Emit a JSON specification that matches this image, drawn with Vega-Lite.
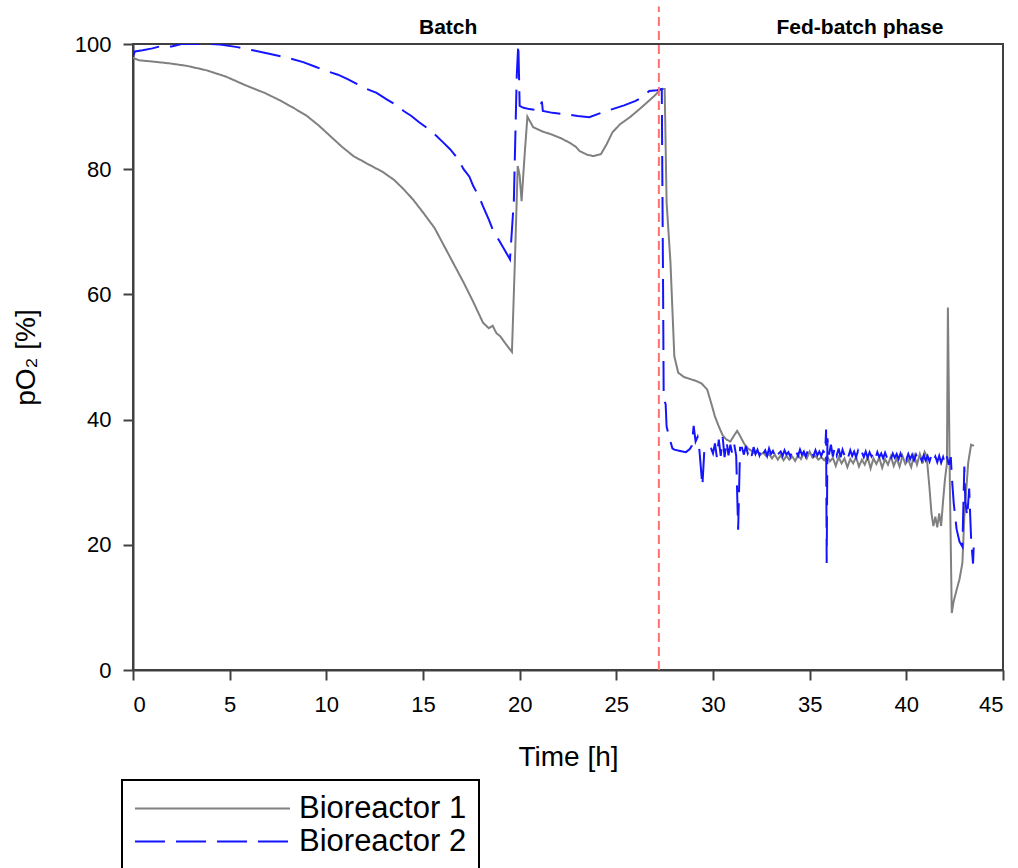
{
  "$schema": "https://vega.github.io/schema/vega-lite/v6.json",
  "width": 870,
  "height": 626,
  "autosize": {"type": "none"},
  "padding": {"left": 133, "top": 44, "right": 15, "bottom": 198},
  "background": "white",
  "config": {
    "font": "Liberation Sans",
    "view": {"stroke": "#404040", "strokeWidth": 2},
    "axis": {"grid": false, "domainColor": "#404040", "domainWidth": 2, "tickColor": "#404040", "tickWidth": 2, "tickSize": 10, "labelFont": "Liberation Sans", "labelFontSize": 22, "labelColor": "black", "titleFont": "Liberation Sans", "titleFontSize": 28, "titleFontWeight": "normal", "titleColor": "black"}
  },
  "datasets": {
    "series": [
      {"t": 0.0, "v": 97.8, "s": "Bioreactor 1"}, {"t": 0.3, "v": 97.4, "s": "Bioreactor 1"}, {"t": 1.0, "v": 97.2, "s": "Bioreactor 1"}, {"t": 1.9, "v": 96.9, "s": "Bioreactor 1"}, {"t": 2.8, "v": 96.5, "s": "Bioreactor 1"}, {"t": 3.8, "v": 95.8, "s": "Bioreactor 1"}, {"t": 4.8, "v": 94.8, "s": "Bioreactor 1"}, {"t": 5.9, "v": 93.3, "s": "Bioreactor 1"}, {"t": 6.8, "v": 92.2, "s": "Bioreactor 1"}, {"t": 7.6, "v": 91.0, "s": "Bioreactor 1"}, {"t": 8.3, "v": 89.8, "s": "Bioreactor 1"}, {"t": 9.0, "v": 88.5, "s": "Bioreactor 1"}, {"t": 9.6, "v": 87.0, "s": "Bioreactor 1"}, {"t": 10.2, "v": 85.3, "s": "Bioreactor 1"}, {"t": 10.8, "v": 83.6, "s": "Bioreactor 1"}, {"t": 11.4, "v": 82.1, "s": "Bioreactor 1"}, {"t": 12.1, "v": 80.9, "s": "Bioreactor 1"}, {"t": 12.9, "v": 79.6, "s": "Bioreactor 1"}, {"t": 13.5, "v": 78.3, "s": "Bioreactor 1"}, {"t": 14.0, "v": 76.8, "s": "Bioreactor 1"}, {"t": 14.5, "v": 75.1, "s": "Bioreactor 1"}, {"t": 15.0, "v": 73.1, "s": "Bioreactor 1"}, {"t": 15.6, "v": 70.6, "s": "Bioreactor 1"}, {"t": 16.1, "v": 67.7, "s": "Bioreactor 1"}, {"t": 16.6, "v": 64.8, "s": "Bioreactor 1"}, {"t": 17.1, "v": 61.9, "s": "Bioreactor 1"}, {"t": 17.6, "v": 58.8, "s": "Bioreactor 1"}, {"t": 18.1, "v": 55.5, "s": "Bioreactor 1"}, {"t": 18.4, "v": 54.6, "s": "Bioreactor 1"}, {"t": 18.6, "v": 55.0, "s": "Bioreactor 1"}, {"t": 18.8, "v": 53.8, "s": "Bioreactor 1"}, {"t": 19.0, "v": 53.3, "s": "Bioreactor 1"}, {"t": 19.3, "v": 52.0, "s": "Bioreactor 1"}, {"t": 19.6, "v": 50.8, "s": "Bioreactor 1"}, {"t": 19.75, "v": 65.0, "s": "Bioreactor 1"}, {"t": 19.9, "v": 80.5, "s": "Bioreactor 1"}, {"t": 20.0, "v": 79.0, "s": "Bioreactor 1"}, {"t": 20.1, "v": 74.9, "s": "Bioreactor 1"}, {"t": 20.25, "v": 82.0, "s": "Bioreactor 1"}, {"t": 20.4, "v": 88.4, "s": "Bioreactor 1"}, {"t": 20.7, "v": 86.7, "s": "Bioreactor 1"}, {"t": 21.2, "v": 86.0, "s": "Bioreactor 1"}, {"t": 21.6, "v": 85.6, "s": "Bioreactor 1"}, {"t": 22.1, "v": 85.0, "s": "Bioreactor 1"}, {"t": 22.6, "v": 84.2, "s": "Bioreactor 1"}, {"t": 22.9, "v": 83.6, "s": "Bioreactor 1"}, {"t": 23.1, "v": 82.9, "s": "Bioreactor 1"}, {"t": 23.5, "v": 82.3, "s": "Bioreactor 1"}, {"t": 23.8, "v": 82.1, "s": "Bioreactor 1"}, {"t": 24.2, "v": 82.4, "s": "Bioreactor 1"}, {"t": 24.5, "v": 84.0, "s": "Bioreactor 1"}, {"t": 24.8, "v": 85.9, "s": "Bioreactor 1"}, {"t": 25.2, "v": 87.2, "s": "Bioreactor 1"}, {"t": 25.7, "v": 88.3, "s": "Bioreactor 1"}, {"t": 26.2, "v": 89.6, "s": "Bioreactor 1"}, {"t": 26.6, "v": 90.7, "s": "Bioreactor 1"}, {"t": 27.0, "v": 91.8, "s": "Bioreactor 1"}, {"t": 27.3, "v": 92.8, "s": "Bioreactor 1"}, {"t": 27.5, "v": 92.8, "s": "Bioreactor 1"}, {"t": 27.6, "v": 74.7, "s": "Bioreactor 1"}, {"t": 27.8, "v": 65.1, "s": "Bioreactor 1"}, {"t": 28.0, "v": 50.1, "s": "Bioreactor 1"}, {"t": 28.2, "v": 47.5, "s": "Bioreactor 1"}, {"t": 28.5, "v": 46.8, "s": "Bioreactor 1"}, {"t": 28.8, "v": 46.5, "s": "Bioreactor 1"}, {"t": 29.1, "v": 46.2, "s": "Bioreactor 1"}, {"t": 29.4, "v": 45.8, "s": "Bioreactor 1"}, {"t": 29.7, "v": 44.8, "s": "Bioreactor 1"}, {"t": 29.9, "v": 42.7, "s": "Bioreactor 1"}, {"t": 30.1, "v": 40.5, "s": "Bioreactor 1"}, {"t": 30.3, "v": 38.9, "s": "Bioreactor 1"}, {"t": 30.5, "v": 37.5, "s": "Bioreactor 1"}, {"t": 30.7, "v": 36.8, "s": "Bioreactor 1"}, {"t": 30.9, "v": 36.5, "s": "Bioreactor 1"}, {"t": 31.1, "v": 37.5, "s": "Bioreactor 1"}, {"t": 31.25, "v": 38.2, "s": "Bioreactor 1"}, {"t": 31.4, "v": 37.4, "s": "Bioreactor 1"}, {"t": 31.6, "v": 36.2, "s": "Bioreactor 1"}, {"t": 31.8, "v": 35.4, "s": "Bioreactor 1"},
      {"t": 32.0, "v": 35.0, "s": "Bioreactor 1"}, {"t": 32.15, "v": 34.6, "s": "Bioreactor 1"}, {"t": 32.3, "v": 34.9, "s": "Bioreactor 1"}, {"t": 32.45, "v": 34.4, "s": "Bioreactor 1"}, {"t": 32.6, "v": 34.7, "s": "Bioreactor 1"}, {"t": 32.75, "v": 34.2, "s": "Bioreactor 1"}, {"t": 32.9, "v": 34.5, "s": "Bioreactor 1"}, {"t": 33.05, "v": 33.8, "s": "Bioreactor 1"}, {"t": 33.2, "v": 34.4, "s": "Bioreactor 1"}, {"t": 33.35, "v": 33.6, "s": "Bioreactor 1"}, {"t": 33.5, "v": 34.3, "s": "Bioreactor 1"}, {"t": 33.65, "v": 33.5, "s": "Bioreactor 1"}, {"t": 33.8, "v": 34.2, "s": "Bioreactor 1"}, {"t": 33.95, "v": 33.6, "s": "Bioreactor 1"}, {"t": 34.1, "v": 34.1, "s": "Bioreactor 1"}, {"t": 34.25, "v": 33.4, "s": "Bioreactor 1"}, {"t": 34.4, "v": 34.3, "s": "Bioreactor 1"}, {"t": 34.55, "v": 33.7, "s": "Bioreactor 1"}, {"t": 34.7, "v": 34.6, "s": "Bioreactor 1"}, {"t": 34.85, "v": 33.8, "s": "Bioreactor 1"}, {"t": 35.0, "v": 34.9, "s": "Bioreactor 1"}, {"t": 35.15, "v": 33.9, "s": "Bioreactor 1"}, {"t": 35.3, "v": 34.2, "s": "Bioreactor 1"}, {"t": 35.45, "v": 33.6, "s": "Bioreactor 1"}, {"t": 35.6, "v": 34.0, "s": "Bioreactor 1"}, {"t": 35.75, "v": 33.5, "s": "Bioreactor 1"}, {"t": 35.9, "v": 34.1, "s": "Bioreactor 1"}, {"t": 36.05, "v": 33.3, "s": "Bioreactor 1"}, {"t": 36.2, "v": 33.9, "s": "Bioreactor 1"}, {"t": 36.35, "v": 32.6, "s": "Bioreactor 1"}, {"t": 36.5, "v": 34.0, "s": "Bioreactor 1"}, {"t": 36.65, "v": 33.0, "s": "Bioreactor 1"}, {"t": 36.8, "v": 33.8, "s": "Bioreactor 1"}, {"t": 36.95, "v": 32.4, "s": "Bioreactor 1"}, {"t": 37.1, "v": 33.7, "s": "Bioreactor 1"}, {"t": 37.25, "v": 33.0, "s": "Bioreactor 1"}, {"t": 37.4, "v": 34.0, "s": "Bioreactor 1"}, {"t": 37.55, "v": 32.5, "s": "Bioreactor 1"}, {"t": 37.7, "v": 33.6, "s": "Bioreactor 1"}, {"t": 37.85, "v": 32.8, "s": "Bioreactor 1"}, {"t": 38.0, "v": 34.0, "s": "Bioreactor 1"}, {"t": 38.15, "v": 32.2, "s": "Bioreactor 1"}, {"t": 38.3, "v": 33.8, "s": "Bioreactor 1"}, {"t": 38.45, "v": 32.9, "s": "Bioreactor 1"}, {"t": 38.6, "v": 33.9, "s": "Bioreactor 1"}, {"t": 38.75, "v": 32.3, "s": "Bioreactor 1"}, {"t": 38.9, "v": 33.7, "s": "Bioreactor 1"}, {"t": 39.05, "v": 32.8, "s": "Bioreactor 1"}, {"t": 39.2, "v": 34.1, "s": "Bioreactor 1"}, {"t": 39.35, "v": 32.6, "s": "Bioreactor 1"}, {"t": 39.5, "v": 33.8, "s": "Bioreactor 1"}, {"t": 39.65, "v": 32.5, "s": "Bioreactor 1"}, {"t": 39.8, "v": 34.2, "s": "Bioreactor 1"}, {"t": 39.95, "v": 32.9, "s": "Bioreactor 1"}, {"t": 40.1, "v": 33.6, "s": "Bioreactor 1"}, {"t": 40.25, "v": 32.4, "s": "Bioreactor 1"}, {"t": 40.4, "v": 34.3, "s": "Bioreactor 1"}, {"t": 40.55, "v": 32.8, "s": "Bioreactor 1"}, {"t": 40.7, "v": 34.5, "s": "Bioreactor 1"}, {"t": 40.85, "v": 33.0, "s": "Bioreactor 1"}, {"t": 40.95, "v": 34.8, "s": "Bioreactor 1"}, {"t": 41.05, "v": 34.2, "s": "Bioreactor 1"},
      {"t": 41.2, "v": 29.0, "s": "Bioreactor 1"}, {"t": 41.3, "v": 25.0, "s": "Bioreactor 1"}, {"t": 41.4, "v": 23.0, "s": "Bioreactor 1"}, {"t": 41.5, "v": 24.5, "s": "Bioreactor 1"}, {"t": 41.6, "v": 22.8, "s": "Bioreactor 1"}, {"t": 41.7, "v": 25.0, "s": "Bioreactor 1"}, {"t": 41.8, "v": 23.0, "s": "Bioreactor 1"}, {"t": 41.9, "v": 27.0, "s": "Bioreactor 1"}, {"t": 42.0, "v": 30.5, "s": "Bioreactor 1"}, {"t": 42.1, "v": 33.0, "s": "Bioreactor 1"}, {"t": 42.15, "v": 57.9, "s": "Bioreactor 1"}, {"t": 42.25, "v": 30.0, "s": "Bioreactor 1"}, {"t": 42.35, "v": 9.1, "s": "Bioreactor 1"}, {"t": 42.45, "v": 11.0, "s": "Bioreactor 1"}, {"t": 42.6, "v": 12.8, "s": "Bioreactor 1"}, {"t": 42.75, "v": 14.5, "s": "Bioreactor 1"}, {"t": 42.9, "v": 17.1, "s": "Bioreactor 1"}, {"t": 43.0, "v": 24.5, "s": "Bioreactor 1"}, {"t": 43.2, "v": 33.1, "s": "Bioreactor 1"}, {"t": 43.35, "v": 36.0, "s": "Bioreactor 1"}, {"t": 43.5, "v": 35.8, "s": "Bioreactor 1"},
      {"t": 0.0, "v": 98.0, "s": "Bioreactor 2"}, {"t": 0.1, "v": 98.8, "s": "Bioreactor 2"}, {"t": 0.5, "v": 99.0, "s": "Bioreactor 2"}, {"t": 1.0, "v": 99.3, "s": "Bioreactor 2"}, {"t": 1.5, "v": 99.7, "s": "Bioreactor 2"}, {"t": 2.0, "v": 99.6, "s": "Bioreactor 2"}, {"t": 2.5, "v": 100.0, "s": "Bioreactor 2"}, {"t": 3.0, "v": 100.0, "s": "Bioreactor 2"}, {"t": 3.5, "v": 100.0, "s": "Bioreactor 2"}, {"t": 4.0, "v": 100.0, "s": "Bioreactor 2"}, {"t": 4.5, "v": 99.9, "s": "Bioreactor 2"}, {"t": 5.4, "v": 99.5, "s": "Bioreactor 2"}, {"t": 6.2, "v": 99.0, "s": "Bioreactor 2"}, {"t": 7.1, "v": 98.4, "s": "Bioreactor 2"}, {"t": 8.0, "v": 97.8, "s": "Bioreactor 2"}, {"t": 8.8, "v": 97.1, "s": "Bioreactor 2"}, {"t": 9.4, "v": 96.4, "s": "Bioreactor 2"}, {"t": 10.0, "v": 95.7, "s": "Bioreactor 2"}, {"t": 10.6, "v": 95.1, "s": "Bioreactor 2"}, {"t": 11.1, "v": 94.4, "s": "Bioreactor 2"}, {"t": 11.6, "v": 93.6, "s": "Bioreactor 2"}, {"t": 12.1, "v": 92.8, "s": "Bioreactor 2"}, {"t": 12.6, "v": 92.2, "s": "Bioreactor 2"}, {"t": 13.1, "v": 91.2, "s": "Bioreactor 2"}, {"t": 13.6, "v": 90.3, "s": "Bioreactor 2"}, {"t": 14.0, "v": 89.3, "s": "Bioreactor 2"}, {"t": 14.4, "v": 88.5, "s": "Bioreactor 2"}, {"t": 14.8, "v": 87.5, "s": "Bioreactor 2"}, {"t": 15.2, "v": 86.6, "s": "Bioreactor 2"}, {"t": 15.7, "v": 85.3, "s": "Bioreactor 2"}, {"t": 16.0, "v": 84.4, "s": "Bioreactor 2"}, {"t": 16.4, "v": 83.2, "s": "Bioreactor 2"}, {"t": 16.8, "v": 81.7, "s": "Bioreactor 2"}, {"t": 17.1, "v": 80.0, "s": "Bioreactor 2"}, {"t": 17.4, "v": 78.8, "s": "Bioreactor 2"}, {"t": 17.6, "v": 77.3, "s": "Bioreactor 2"}, {"t": 17.9, "v": 75.6, "s": "Bioreactor 2"}, {"t": 18.1, "v": 74.1, "s": "Bioreactor 2"}, {"t": 18.4, "v": 72.0, "s": "Bioreactor 2"}, {"t": 18.6, "v": 70.4, "s": "Bioreactor 2"}, {"t": 18.9, "v": 68.8, "s": "Bioreactor 2"}, {"t": 19.2, "v": 67.2, "s": "Bioreactor 2"}, {"t": 19.5, "v": 65.6, "s": "Bioreactor 2"}, {"t": 19.7, "v": 75.0, "s": "Bioreactor 2"}, {"t": 19.85, "v": 95.0, "s": "Bioreactor 2"}, {"t": 19.93, "v": 100.0, "s": "Bioreactor 2"}, {"t": 20.0, "v": 90.1, "s": "Bioreactor 2"}, {"t": 20.2, "v": 89.8, "s": "Bioreactor 2"}, {"t": 20.5, "v": 89.6, "s": "Bioreactor 2"}, {"t": 21.0, "v": 89.4, "s": "Bioreactor 2"}, {"t": 21.15, "v": 90.8, "s": "Bioreactor 2"}, {"t": 21.2, "v": 89.3, "s": "Bioreactor 2"}, {"t": 21.7, "v": 89.0, "s": "Bioreactor 2"}, {"t": 22.3, "v": 88.8, "s": "Bioreactor 2"}, {"t": 23.0, "v": 88.5, "s": "Bioreactor 2"}, {"t": 23.6, "v": 88.3, "s": "Bioreactor 2"}, {"t": 24.3, "v": 89.1, "s": "Bioreactor 2"}, {"t": 24.8, "v": 89.6, "s": "Bioreactor 2"}, {"t": 25.4, "v": 90.2, "s": "Bioreactor 2"}, {"t": 26.0, "v": 90.9, "s": "Bioreactor 2"}, {"t": 26.4, "v": 91.6, "s": "Bioreactor 2"}, {"t": 26.7, "v": 92.5, "s": "Bioreactor 2"}, {"t": 27.1, "v": 92.6, "s": "Bioreactor 2"}, {"t": 27.35, "v": 92.8, "s": "Bioreactor 2"}, {"t": 27.42, "v": 60.0, "s": "Bioreactor 2"}, {"t": 27.45, "v": 43.2, "s": "Bioreactor 2"}, {"t": 27.55, "v": 42.5, "s": "Bioreactor 2"}, {"t": 27.6, "v": 38.9, "s": "Bioreactor 2"}, {"t": 27.75, "v": 37.0, "s": "Bioreactor 2"}, {"t": 27.9, "v": 35.4, "s": "Bioreactor 2"}, {"t": 28.0, "v": 35.2, "s": "Bioreactor 2"}, {"t": 28.3, "v": 35.0, "s": "Bioreactor 2"}, {"t": 28.6, "v": 34.8, "s": "Bioreactor 2"}, {"t": 28.8, "v": 35.3, "s": "Bioreactor 2"}, {"t": 28.9, "v": 35.8, "s": "Bioreactor 2"}, {"t": 29.0, "v": 39.0, "s": "Bioreactor 2"}, {"t": 29.1, "v": 36.5, "s": "Bioreactor 2"}, {"t": 29.2, "v": 37.2, "s": "Bioreactor 2"}, {"t": 29.3, "v": 35.0, "s": "Bioreactor 2"}, {"t": 29.45, "v": 29.4, "s": "Bioreactor 2"}, {"t": 29.55, "v": 35.0, "s": "Bioreactor 2"}, {"t": 29.7, "v": 35.8, "s": "Bioreactor 2"}, {"t": 29.9, "v": 35.4, "s": "Bioreactor 2"}, {"t": 30.0, "v": 34.6, "s": "Bioreactor 2"}, {"t": 30.1, "v": 36.2, "s": "Bioreactor 2"}, {"t": 30.2, "v": 34.0, "s": "Bioreactor 2"}, {"t": 30.3, "v": 36.8, "s": "Bioreactor 2"}, {"t": 30.4, "v": 34.2, "s": "Bioreactor 2"}, {"t": 30.5, "v": 37.2, "s": "Bioreactor 2"}, {"t": 30.6, "v": 34.0, "s": "Bioreactor 2"}, {"t": 30.7, "v": 36.6, "s": "Bioreactor 2"}, {"t": 30.8, "v": 34.3, "s": "Bioreactor 2"}, {"t": 30.9, "v": 36.0, "s": "Bioreactor 2"}, {"t": 31.0, "v": 34.5, "s": "Bioreactor 2"}, {"t": 31.1, "v": 36.0, "s": "Bioreactor 2"}, {"t": 31.2, "v": 34.2, "s": "Bioreactor 2"}, {"t": 31.3, "v": 22.4, "s": "Bioreactor 2"}, {"t": 31.4, "v": 35.5, "s": "Bioreactor 2"},
      {"t": 31.5, "v": 35.5, "s": "Bioreactor 2"}, {"t": 31.6, "v": 34.4, "s": "Bioreactor 2"}, {"t": 31.7, "v": 35.8, "s": "Bioreactor 2"}, {"t": 31.8, "v": 34.6, "s": "Bioreactor 2"}, {"t": 31.9, "v": 35.3, "s": "Bioreactor 2"}, {"t": 32.0, "v": 34.2, "s": "Bioreactor 2"}, {"t": 32.1, "v": 35.6, "s": "Bioreactor 2"}, {"t": 32.2, "v": 34.5, "s": "Bioreactor 2"}, {"t": 32.3, "v": 35.2, "s": "Bioreactor 2"}, {"t": 32.4, "v": 34.3, "s": "Bioreactor 2"}, {"t": 32.5, "v": 35.5, "s": "Bioreactor 2"}, {"t": 32.6, "v": 34.6, "s": "Bioreactor 2"}, {"t": 32.7, "v": 35.1, "s": "Bioreactor 2"}, {"t": 32.8, "v": 34.2, "s": "Bioreactor 2"}, {"t": 32.9, "v": 35.4, "s": "Bioreactor 2"}, {"t": 33.0, "v": 34.5, "s": "Bioreactor 2"}, {"t": 33.1, "v": 35.0, "s": "Bioreactor 2"}, {"t": 33.2, "v": 34.3, "s": "Bioreactor 2"}, {"t": 33.3, "v": 35.2, "s": "Bioreactor 2"}, {"t": 33.4, "v": 34.6, "s": "Bioreactor 2"}, {"t": 33.5, "v": 34.9, "s": "Bioreactor 2"}, {"t": 33.6, "v": 34.2, "s": "Bioreactor 2"}, {"t": 33.7, "v": 35.1, "s": "Bioreactor 2"}, {"t": 33.8, "v": 34.4, "s": "Bioreactor 2"}, {"t": 33.9, "v": 34.8, "s": "Bioreactor 2"}, {"t": 34.0, "v": 34.1, "s": "Bioreactor 2"}, {"t": 34.1, "v": 35.0, "s": "Bioreactor 2"}, {"t": 34.2, "v": 34.5, "s": "Bioreactor 2"}, {"t": 34.3, "v": 34.9, "s": "Bioreactor 2"}, {"t": 34.4, "v": 34.2, "s": "Bioreactor 2"}, {"t": 34.5, "v": 35.2, "s": "Bioreactor 2"}, {"t": 34.6, "v": 34.4, "s": "Bioreactor 2"}, {"t": 34.7, "v": 34.9, "s": "Bioreactor 2"}, {"t": 34.8, "v": 34.1, "s": "Bioreactor 2"}, {"t": 34.9, "v": 35.0, "s": "Bioreactor 2"}, {"t": 35.0, "v": 34.3, "s": "Bioreactor 2"}, {"t": 35.1, "v": 34.8, "s": "Bioreactor 2"}, {"t": 35.2, "v": 34.2, "s": "Bioreactor 2"}, {"t": 35.3, "v": 35.1, "s": "Bioreactor 2"}, {"t": 35.4, "v": 34.3, "s": "Bioreactor 2"}, {"t": 35.5, "v": 34.9, "s": "Bioreactor 2"}, {"t": 35.6, "v": 34.2, "s": "Bioreactor 2"}, {"t": 35.7, "v": 35.0, "s": "Bioreactor 2"}, {"t": 35.8, "v": 34.6, "s": "Bioreactor 2"}, {"t": 35.85, "v": 38.4, "s": "Bioreactor 2"}, {"t": 35.88, "v": 17.1, "s": "Bioreactor 2"}, {"t": 35.92, "v": 37.0, "s": "Bioreactor 2"}, {"t": 36.0, "v": 34.4, "s": "Bioreactor 2"}, {"t": 36.1, "v": 36.0, "s": "Bioreactor 2"}, {"t": 36.2, "v": 34.1, "s": "Bioreactor 2"}, {"t": 36.3, "v": 35.6, "s": "Bioreactor 2"}, {"t": 36.4, "v": 34.3, "s": "Bioreactor 2"}, {"t": 36.5, "v": 35.4, "s": "Bioreactor 2"}, {"t": 36.6, "v": 34.0, "s": "Bioreactor 2"}, {"t": 36.7, "v": 35.2, "s": "Bioreactor 2"}, {"t": 36.8, "v": 34.3, "s": "Bioreactor 2"}, {"t": 36.9, "v": 35.0, "s": "Bioreactor 2"}, {"t": 37.0, "v": 34.1, "s": "Bioreactor 2"}, {"t": 37.1, "v": 35.1, "s": "Bioreactor 2"}, {"t": 37.2, "v": 34.2, "s": "Bioreactor 2"}, {"t": 37.3, "v": 34.9, "s": "Bioreactor 2"}, {"t": 37.4, "v": 34.0, "s": "Bioreactor 2"}, {"t": 37.5, "v": 35.0, "s": "Bioreactor 2"}, {"t": 37.6, "v": 34.1, "s": "Bioreactor 2"}, {"t": 37.7, "v": 34.8, "s": "Bioreactor 2"}, {"t": 37.8, "v": 34.0, "s": "Bioreactor 2"}, {"t": 37.9, "v": 34.9, "s": "Bioreactor 2"}, {"t": 38.0, "v": 33.9, "s": "Bioreactor 2"}, {"t": 38.1, "v": 34.8, "s": "Bioreactor 2"}, {"t": 38.2, "v": 34.1, "s": "Bioreactor 2"}, {"t": 38.3, "v": 34.7, "s": "Bioreactor 2"}, {"t": 38.4, "v": 33.8, "s": "Bioreactor 2"}, {"t": 38.5, "v": 34.8, "s": "Bioreactor 2"}, {"t": 38.6, "v": 34.0, "s": "Bioreactor 2"}, {"t": 38.7, "v": 34.6, "s": "Bioreactor 2"}, {"t": 38.8, "v": 33.8, "s": "Bioreactor 2"}, {"t": 38.9, "v": 34.7, "s": "Bioreactor 2"}, {"t": 39.0, "v": 33.9, "s": "Bioreactor 2"}, {"t": 39.1, "v": 34.6, "s": "Bioreactor 2"}, {"t": 39.2, "v": 33.7, "s": "Bioreactor 2"}, {"t": 39.3, "v": 34.6, "s": "Bioreactor 2"}, {"t": 39.4, "v": 33.9, "s": "Bioreactor 2"}, {"t": 39.5, "v": 34.5, "s": "Bioreactor 2"}, {"t": 39.6, "v": 33.7, "s": "Bioreactor 2"}, {"t": 39.7, "v": 34.6, "s": "Bioreactor 2"}, {"t": 39.8, "v": 33.8, "s": "Bioreactor 2"}, {"t": 39.9, "v": 34.4, "s": "Bioreactor 2"}, {"t": 40.0, "v": 33.6, "s": "Bioreactor 2"}, {"t": 40.1, "v": 34.5, "s": "Bioreactor 2"}, {"t": 40.2, "v": 33.7, "s": "Bioreactor 2"}, {"t": 40.3, "v": 34.4, "s": "Bioreactor 2"}, {"t": 40.4, "v": 33.5, "s": "Bioreactor 2"}, {"t": 40.5, "v": 34.4, "s": "Bioreactor 2"}, {"t": 40.6, "v": 33.6, "s": "Bioreactor 2"}, {"t": 40.7, "v": 34.3, "s": "Bioreactor 2"}, {"t": 40.8, "v": 33.4, "s": "Bioreactor 2"}, {"t": 40.9, "v": 34.3, "s": "Bioreactor 2"}, {"t": 41.0, "v": 33.5, "s": "Bioreactor 2"}, {"t": 41.1, "v": 34.2, "s": "Bioreactor 2"}, {"t": 41.2, "v": 33.3, "s": "Bioreactor 2"}, {"t": 41.3, "v": 34.3, "s": "Bioreactor 2"}, {"t": 41.4, "v": 33.4, "s": "Bioreactor 2"}, {"t": 41.5, "v": 34.1, "s": "Bioreactor 2"}, {"t": 41.6, "v": 33.2, "s": "Bioreactor 2"}, {"t": 41.7, "v": 34.2, "s": "Bioreactor 2"}, {"t": 41.8, "v": 33.1, "s": "Bioreactor 2"}, {"t": 41.9, "v": 34.0, "s": "Bioreactor 2"}, {"t": 42.0, "v": 32.9, "s": "Bioreactor 2"}, {"t": 42.1, "v": 34.1, "s": "Bioreactor 2"}, {"t": 42.2, "v": 32.8, "s": "Bioreactor 2"}, {"t": 42.3, "v": 34.0, "s": "Bioreactor 2"},
      {"t": 42.35, "v": 31.0, "s": "Bioreactor 2"}, {"t": 42.45, "v": 26.7, "s": "Bioreactor 2"}, {"t": 42.6, "v": 22.5, "s": "Bioreactor 2"}, {"t": 42.75, "v": 20.5, "s": "Bioreactor 2"}, {"t": 42.9, "v": 19.7, "s": "Bioreactor 2"}, {"t": 43.0, "v": 32.5, "s": "Bioreactor 2"}, {"t": 43.05, "v": 27.0, "s": "Bioreactor 2"}, {"t": 43.15, "v": 24.5, "s": "Bioreactor 2"}, {"t": 43.25, "v": 29.0, "s": "Bioreactor 2"}, {"t": 43.35, "v": 21.0, "s": "Bioreactor 2"}, {"t": 43.45, "v": 17.0, "s": "Bioreactor 2"}, {"t": 43.5, "v": 20.8, "s": "Bioreactor 2"}
    ],
    "phases": [
      {"t": 16.3, "v": 102.6, "label": "Batch"},
      {"t": 37.6, "v": 102.6, "label": "Fed-batch phase"}
    ],
    "divider": [{"t": 27.2, "v0": 0, "v1": 106}]
  },
  "layer": [
    {
      "data": {"name": "series"},
      "mark": {"type": "line", "strokeWidth": 2, "clip": true},
      "encoding": {
        "x": {"field": "t", "type": "quantitative", "scale": {"domain": [0, 45], "nice": false}, "axis": {"values": [0, 5, 10, 15, 20, 25, 30, 35, 40, 45], "title": "Time [h]", "labelPadding": 14, "titlePadding": 28}},
        "y": {"field": "v", "type": "quantitative", "scale": {"domain": [0, 100], "nice": false}, "axis": {"values": [0, 20, 40, 60, 80, 100], "title": "pO₂ [%]", "labelPadding": 12, "titlePadding": 34}},
        "color": {"field": "s", "type": "nominal", "scale": {"domain": ["Bioreactor 1", "Bioreactor 2"], "range": ["#808080", "#1414ff"]}, "legend": {"title": null, "orient": "none", "legendX": -11, "legendY": 736, "symbolType": "M-1,0H9", "symbolSize": 961, "symbolStrokeWidth": 2, "labelFontSize": 31, "labelColor": "black", "labelLimit": 400, "labelOffset": 132, "padding": 12, "rowPadding": 1, "strokeColor": "black", "encode": {"legend": {"update": {"strokeWidth": {"value": 2}}}}}},
        "strokeDash": {"field": "s", "type": "nominal", "scale": {"domain": ["Bioreactor 1", "Bioreactor 2"], "range": [[1, 0], [30, 11]]}, "legend": null}
      }
    },
    {
      "data": {"name": "divider"},
      "mark": {"type": "rule", "color": "#ff7070", "strokeWidth": 2, "strokeDash": [9, 5]},
      "encoding": {
        "x": {"field": "t", "type": "quantitative"},
        "y": {"field": "v0", "type": "quantitative"},
        "y2": {"field": "v1"}
      }
    },
    {
      "data": {"name": "phases"},
      "mark": {"type": "text", "font": "Liberation Sans", "fontSize": 21, "fontWeight": "bold", "color": "black", "align": "center", "baseline": "middle"},
      "encoding": {
        "x": {"field": "t", "type": "quantitative"},
        "y": {"field": "v", "type": "quantitative"},
        "text": {"field": "label"}
      }
    }
  ]
}
